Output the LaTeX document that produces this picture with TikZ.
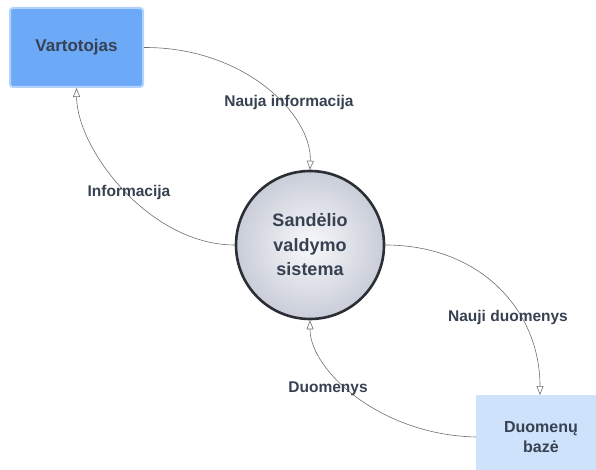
\documentclass[tikz,border=0pt]{standalone}
\usepackage{fontspec}
\setmainfont{Liberation Sans}
\usetikzlibrary{arrows.meta,shapes.geometric}
\definecolor{txt}{HTML}{374151}
\definecolor{userfill}{HTML}{6CAAF7}
\definecolor{userrim}{HTML}{B3D3FC}
\definecolor{dbfill}{HTML}{CFE2FB}
\definecolor{wire}{HTML}{6E6E6E}
\definecolor{discin}{HTML}{F8F9FB}
\definecolor{discout}{HTML}{C9CDD8}
\definecolor{discrim}{HTML}{2B2E34}
\tikzset{
  entity/.style={rectangle, inner sep=0pt, font=\bfseries\fontsize{17}{20}\selectfont,
    text=txt, align=center},
  process/.style={circle, minimum size=148pt, inner sep=0pt, draw=discrim, line width=2.6pt,
    inner color=discin, outer color=discout, text=txt, align=center,
    font=\bfseries\fontsize{18}{24.5}\selectfont},
  flow/.style={draw=wire, line width=0.6pt, -{Triangle[open, length=9pt, width=7pt]}},
  flowlabel/.style={text=txt, font=\bfseries\fontsize{15.5}{18}\selectfont, inner sep=0pt}
}
\begin{document}
\begin{tikzpicture}[x=1pt, y=-1pt]
  \useasboundingbox (0,0) rectangle (596,470);
  % external entity: user
  \node[entity, fill=userfill, draw=userrim, line width=2pt, rounded corners=3pt,
        minimum width=133pt, minimum height=79pt] (user) at (76.5,47.5) {Vartotojas};
  % central process
  \node[process] (sys) at (310,245) {Sandėlio\\valdymo\\sistema};
  % data store (runs off the page edge)
  \node[entity, fill=dbfill, minimum width=130pt, minimum height=85pt, anchor=north west]
        (db) at (476,395) {};
  \node[entity, font=\bfseries\fontsize{16}{20.5}\selectfont] (dbtext) at (541,437) {Duomenų\\bazė};
  % data flows
  \draw[flow] (user.east) .. controls (245,47) and (312,115) .. (sys.north);
  \draw[flow] (sys.west) .. controls (150,245) and (77,150) .. (user.south);
  \draw[flow] (sys.east) .. controls (480,245) and (540,310) .. (db.north -| 540,0);
  \draw[flow] (db.west |- dbtext) .. controls (380,435) and (310,370) .. (sys.south);
  % flow labels
  \node[flowlabel] (l1) at (289,102) {Nauja informacija};
  \node[flowlabel] (l2) at (129,192) {Informacija};
  \node[flowlabel] (l3) at (508,317) {Nauji duomenys};
  \node[flowlabel] (l4) at (328,389) {Duomenys};
\end{tikzpicture}
\end{document}
